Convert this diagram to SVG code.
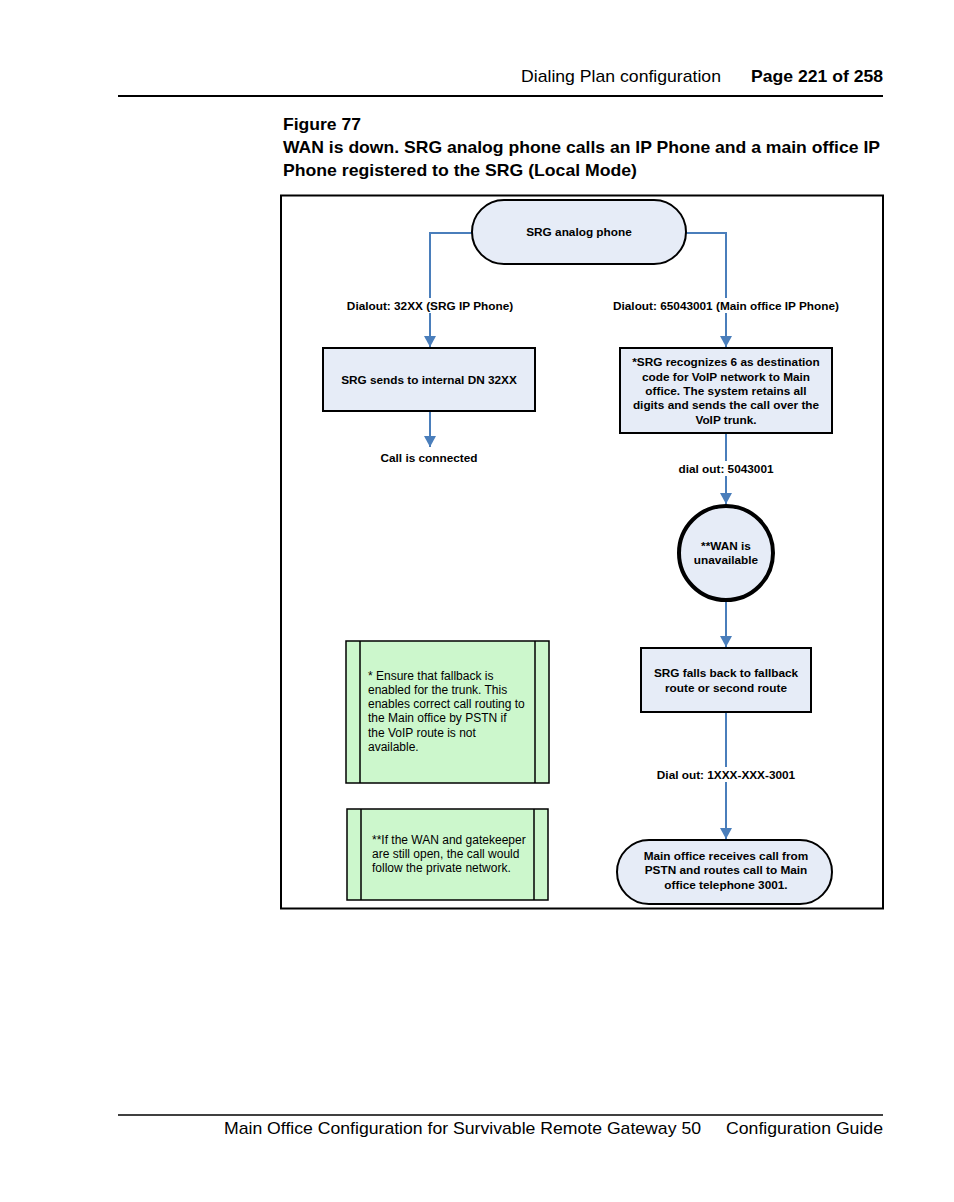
<svg xmlns="http://www.w3.org/2000/svg" width="954" height="1202" viewBox="0 0 954 1202">
<style>
.hd{font-family:"Liberation Sans Narrow","Liberation Sans",Arial,sans-serif;font-size:17px;fill:#000}
.hb{font-weight:bold}
.nt{font-family:"Liberation Sans",Arial,sans-serif;font-size:11.8px;font-weight:bold;fill:#000;text-anchor:middle}
.gn{font-family:"Liberation Sans",Arial,sans-serif;font-size:12px;fill:#000}
.bl{fill:#e6ecf7;stroke:#000;stroke-width:2}
.gr{fill:#ccf7cc;stroke:#000;stroke-width:1.5}
.cn{fill:none;stroke:#4a7ebb;stroke-width:2}
.lb{fill:#fff}
</style>
<defs>
<marker id="ah" markerWidth="12" markerHeight="12" refX="11" refY="6" orient="auto" markerUnits="userSpaceOnUse">
<path d="M0,0 L11,6 L0,12 z" fill="#4a7ebb"/>
</marker>
</defs>
<rect width="954" height="1202" fill="#fff"/>
<g id="header">
<text class="hd" x="721" y="82" text-anchor="end" textLength="200" lengthAdjust="spacingAndGlyphs">Dialing Plan configuration</text>
<text class="hd hb" x="883" y="82" text-anchor="end" textLength="132" lengthAdjust="spacingAndGlyphs">Page 221 of 258</text>
<line x1="118" y1="96" x2="883" y2="96" stroke="#000" stroke-width="2"/>
<text class="hd hb" x="283" y="130" textLength="78" lengthAdjust="spacingAndGlyphs">Figure 77</text>
<text class="hd hb" x="283" y="153" textLength="597" lengthAdjust="spacingAndGlyphs">WAN is down. SRG analog phone calls an IP Phone and a main office IP</text>
<text class="hd hb" x="283" y="176" textLength="354" lengthAdjust="spacingAndGlyphs">Phone registered to the SRG (Local Mode)</text>
</g>
<rect x="281" y="195.5" width="602" height="713" fill="none" stroke="#000" stroke-width="2"/>
<g id="connectors">
<path class="cn" d="M472,233 H430 V347" marker-end="url(#ah)"/>
<path class="cn" d="M686,233 H726 V347" marker-end="url(#ah)"/>
<path class="cn" d="M430,411 V447" marker-end="url(#ah)"/>
<path class="cn" d="M726,433 V504" marker-end="url(#ah)"/>
<path class="cn" d="M726,601 V647" marker-end="url(#ah)"/>
<path class="cn" d="M726,712 V839" marker-end="url(#ah)"/>
<rect class="lb" x="340" y="298" width="180" height="15"/>
<text class="nt" x="430" y="310">Dialout: 32XX (SRG IP Phone)</text>
<rect class="lb" x="608" y="298" width="236" height="15"/>
<text class="nt" x="726" y="310">Dialout: 65043001 (Main office IP Phone)</text>
<rect class="lb" x="672" y="461" width="108" height="15"/>
<text class="nt" x="726" y="473">dial out: 5043001</text>
<rect class="lb" x="652" y="767" width="148" height="15"/>
<text class="nt" x="726" y="779">Dial out: 1XXX-XXX-3001</text>
<text class="nt" x="429" y="462">Call is connected</text>
</g>
<g id="start">
<rect class="bl" x="472" y="200" width="214" height="64" rx="32" ry="32"/>
<text class="nt" x="579" y="236">SRG analog phone</text>
</g>
<g id="internal">
<rect class="bl" x="323" y="348" width="212" height="63"/>
<text class="nt" x="429" y="384">SRG sends to internal DN 32XX</text>
</g>
<g id="recognize">
<rect class="bl" x="620" y="348" width="212" height="85"/>
<text class="nt" x="726" y="366">*SRG recognizes 6 as destination</text>
<text class="nt" x="726" y="381">code for VoIP network to Main</text>
<text class="nt" x="726" y="395">office. The system retains all</text>
<text class="nt" x="726" y="409">digits and sends the call over the</text>
<text class="nt" x="726" y="424">VoIP trunk.</text>
</g>
<g id="wan">
<circle cx="726" cy="553" r="47" fill="#e6ecf7" stroke="#000" stroke-width="4"/>
<text class="nt" x="726" y="550">**WAN is</text>
<text class="nt" x="726" y="564">unavailable</text>
</g>
<g id="fallback">
<rect class="bl" x="641" y="648" width="170" height="64"/>
<text class="nt" x="726" y="677">SRG falls back to fallback</text>
<text class="nt" x="726" y="692">route or second route</text>
</g>
<g id="end">
<rect class="bl" x="617" y="840" width="215" height="64" rx="32" ry="32"/>
<text class="nt" x="726" y="860">Main office receives call from</text>
<text class="nt" x="726" y="874">PSTN and routes call to Main</text>
<text class="nt" x="726" y="889">office telephone 3001.</text>
</g>
<g id="note1">
<rect class="gr" x="346" y="641" width="203" height="142"/>
<line x1="360" y1="641" x2="360" y2="783" stroke="#000" stroke-width="1.5"/>
<line x1="535" y1="641" x2="535" y2="783" stroke="#000" stroke-width="1.5"/>
<text class="gn" x="368" y="680">* Ensure that fallback is</text>
<text class="gn" x="368" y="694">enabled for the trunk. This</text>
<text class="gn" x="368" y="708">enables correct call routing to</text>
<text class="gn" x="368" y="722">the Main office by PSTN if</text>
<text class="gn" x="368" y="737">the VoIP route is not</text>
<text class="gn" x="368" y="751">available.</text>
</g>
<g id="note2">
<rect class="gr" x="347" y="809" width="201" height="91"/>
<line x1="361" y1="809" x2="361" y2="900" stroke="#000" stroke-width="1.5"/>
<line x1="534" y1="809" x2="534" y2="900" stroke="#000" stroke-width="1.5"/>
<text class="gn" x="372" y="844">**If the WAN and gatekeeper</text>
<text class="gn" x="372" y="858">are still open, the call would</text>
<text class="gn" x="372" y="872">follow the private network.</text>
</g>
<g id="footer">
<line x1="118" y1="1115" x2="883" y2="1115" stroke="#000" stroke-width="1.5"/>
<text class="hd" x="224" y="1134" textLength="477" lengthAdjust="spacingAndGlyphs">Main Office Configuration for Survivable Remote Gateway 50</text>
<text class="hd" x="883" y="1134" text-anchor="end" textLength="157" lengthAdjust="spacingAndGlyphs">Configuration Guide</text>
</g>
</svg>
